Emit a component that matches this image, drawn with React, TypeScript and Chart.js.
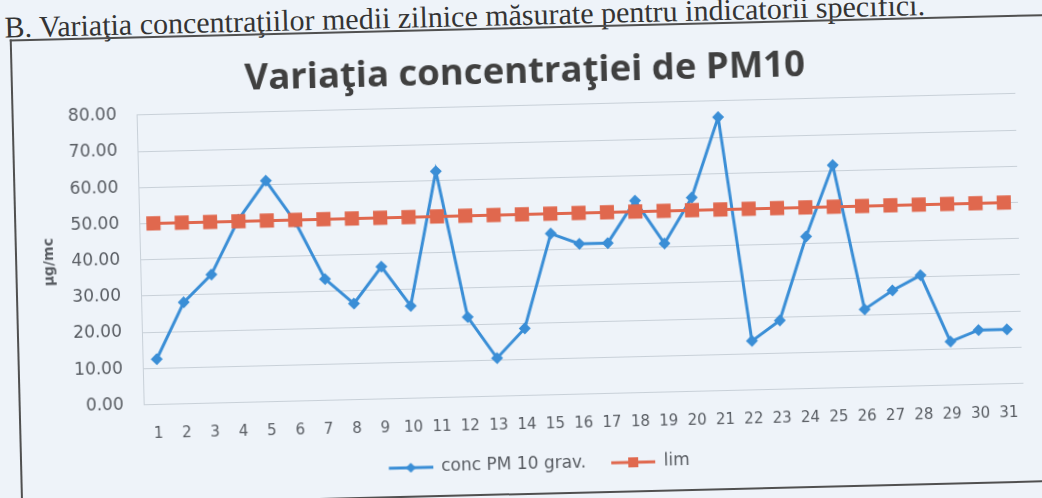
import React, { useEffect, useRef } from "react";
import { Chart, registerables } from "chart.js";

Chart.register(...registerables);

// ---- data ----
const days = [
  "1", "2", "3", "4", "5", "6", "7", "8", "9", "10", "11", "12", "13", "14", "15", "16",
  "17", "18", "19", "20", "21", "22", "23", "24", "25", "26", "27", "28", "29", "30", "31",
];
const concPM10 = [
  12.5, 28, 35.5, 50.5, 61, 49.5, 33.5, 26.5, 36.5, 25.5, 62.5, 22, 10.5, 18.5, 44.5, 41.5,
  41.5, 53, 41, 53.5, 75.5, 13.5, 19, 42, 61.5, 21.5, 26.5, 30.5, 12, 15, 15,
];
const limValues = [
  50, 50, 50, 50, 50, 50, 50, 50, 50, 50, 50, 50, 50, 50, 50, 50,
  50, 50, 50, 50, 50, 50, 50, 50, 50, 50, 50, 50, 50, 50, 50,
];
const seriesNames = ["conc PM 10 grav.", "lim"];
const yMin = 0;
const yMax = 80;
const yStep = 10;
const chartTitle = "Variaţia concentraţiei de PM10";
const yAxisTitle = "µg/mc";
const headerText = "B. Variaţia concentraţiilor medii zilnice măsurate pentru indicatorii specifici.";

// ---- styles ----
const BG = "#eef3f9";
const BLUE = "rgb(58,142,214)";
const RED = "rgb(224,104,78)";
const GRID = "rgb(200,208,216)";
const TEXT = "rgb(88,92,98)";
const TITLE = "rgb(64,64,64)";
const LEGEND_BOX = 68;

function makeLegendIcon(color: string, shape: "diamond" | "square"): HTMLCanvasElement {
  const c = document.createElement("canvas");
  c.width = LEGEND_BOX;
  c.height = 16;
  const ctx = c.getContext("2d")!;
  const x0 = LEGEND_BOX - 44;
  const mid = x0 + 22;
  ctx.strokeStyle = color;
  ctx.lineWidth = 3;
  ctx.beginPath();
  ctx.moveTo(x0, 8);
  ctx.lineTo(LEGEND_BOX, 8);
  ctx.stroke();
  ctx.fillStyle = color;
  if (shape === "diamond") {
    ctx.beginPath();
    ctx.moveTo(mid, 3);
    ctx.lineTo(mid + 5, 8);
    ctx.lineTo(mid, 13);
    ctx.lineTo(mid - 5, 8);
    ctx.closePath();
    ctx.fill();
  } else {
    ctx.fillRect(mid - 5, 3, 10, 10);
  }
  return c;
}

const legendShift = {
  id: "legendShift",
  afterUpdate(chart: any) {
    const l = chart.legend;
    if (l) {
      l.left -= 7;
      l.right -= 7;
    }
  },
};

export default function App() {
  const ref = useRef<HTMLCanvasElement | null>(null);

  useEffect(() => {
    if (!ref.current) return;
    const iconBlue = makeLegendIcon(BLUE, "diamond");
    const iconRed = makeLegendIcon(RED, "square");
    const chart = new Chart(ref.current, {
      type: "line",
      data: {
        labels: days,
        datasets: [
          {
            label: seriesNames[0],
            data: concPM10,
            borderColor: BLUE,
            backgroundColor: BLUE,
            borderWidth: 3,
            pointStyle: "rectRot",
            pointRadius: 6,
            pointBorderWidth: 0,
            tension: 0,
            order: 1,
          },
          {
            label: seriesNames[1],
            data: limValues,
            borderColor: RED,
            backgroundColor: RED,
            borderWidth: 3,
            pointStyle: "rect",
            pointRadius: 10,
            pointBorderWidth: 0,
            tension: 0,
            order: 0,
          },
        ],
      },
      options: {
        responsive: false,
        animation: false,
        devicePixelRatio: 1,
        layout: { padding: { left: 39, right: 23, top: 0, bottom: 14.5 } },
        plugins: {
          title: {
            display: true,
            text: chartTitle,
            color: TITLE,
            font: { family: "'Open Sans', sans-serif", size: 36.5, weight: "bold" },
            padding: { top: 51.2, bottom: 10.8 },
          },
          legend: {
            position: "bottom",
            labels: {
              usePointStyle: true,
              pointStyleWidth: LEGEND_BOX,
              padding: 1,
              color: TEXT,
              font: { family: "'DejaVu Sans', sans-serif", size: 17 },
              generateLabels: () => [
                {
                  text: seriesNames[0],
                  pointStyle: iconBlue as any,
                  fillStyle: BLUE,
                  strokeStyle: BLUE,
                  lineWidth: 0,
                  hidden: false,
                  datasetIndex: 0,
                  fontColor: TEXT,
                },
                {
                  text: seriesNames[1],
                  pointStyle: iconRed as any,
                  fillStyle: RED,
                  strokeStyle: RED,
                  lineWidth: 0,
                  hidden: false,
                  datasetIndex: 1,
                  fontColor: TEXT,
                },
              ],
            },
          },
          tooltip: { enabled: false },
        },
        scales: {
          x: {
            offset: true,
            grid: { display: false, drawTicks: false },
            border: { display: true, color: GRID },
            ticks: {
              padding: 21,
              color: TEXT,
              maxRotation: 0,
              autoSkip: false,
              font: { family: "'DejaVu Sans', sans-serif", size: 15 },
            },
          },
          y: {
            min: yMin,
            max: yMax,
            grid: { color: GRID, drawTicks: false, lineWidth: 1 },
            border: { display: true, color: GRID },
            ticks: {
              stepSize: yStep,
              padding: 20,
              color: TEXT,
              font: { family: "'DejaVu Sans', sans-serif", size: 17 },
              callback: (v: any) => Number(v).toFixed(2),
            },
            title: {
              display: true,
              text: yAxisTitle,
              color: TEXT,
              font: { family: "'DejaVu Sans', sans-serif", size: 14, weight: "bold" },
              padding: { top: 2, bottom: 2 },
            },
            afterFit: (s: any) => {
              s.width = 101;
            },
          },
        },
      },
      plugins: [legendShift],
    });
    return () => chart.destroy();
  }, []);

  return (
    <div
      style={{
        position: "fixed",
        left: 0,
        top: 0,
        width: 1042,
        height: 498,
        overflow: "hidden",
        background: BG,
      }}
    >
      <div
        style={{
          position: "absolute",
          left: 0,
          top: 0,
          width: 1042,
          height: 498,
          transform: "rotate(-1.4deg)",
          transformOrigin: "521px 249px",
        }}
      >
        <div
          style={{
            position: "absolute",
            left: 10,
            top: 0,
            fontFamily: "'Liberation Serif', 'Times New Roman', serif",
            fontSize: 30,
            lineHeight: "30px",
            whiteSpace: "nowrap",
            color: "rgb(52,52,52)",
          }}
        >
          {headerText}
        </div>
        <div
          style={{
            position: "absolute",
            left: 15,
            top: 27,
            width: 1200,
            height: 464,
            borderLeft: "2px solid rgb(80,80,80)",
            borderTop: "2px solid rgb(80,80,80)",
            borderBottom: "2px solid rgb(80,80,80)",
          }}
        />
        <canvas
          ref={ref}
          width={1042}
          height={498}
          style={{ position: "absolute", left: 0, top: 0, width: 1042, height: 498 }}
        />
      </div>
    </div>
  );
}
